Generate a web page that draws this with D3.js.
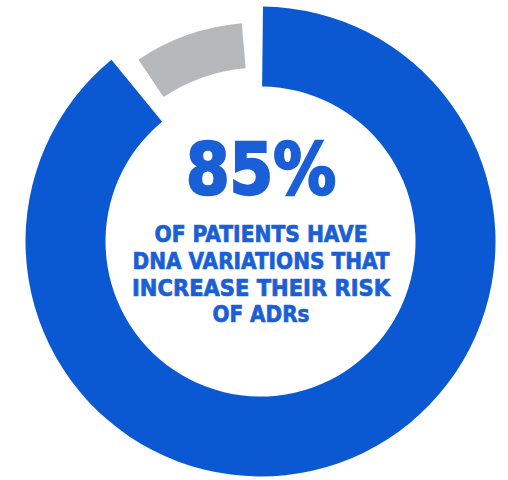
<!DOCTYPE html>
<html lang="en">
<head>
  <meta charset="UTF-8">
  <title>85% of patients</title>
  <script src="https://d3js.org/d3.v7.min.js"></script>
  <style>
    html, body { margin: 0; padding: 0; background: #fff; }
    .label { font-family: "DejaVu Sans Condensed", "DejaVu Sans", sans-serif; font-weight: bold; fill: #1a5fd6; stroke: #1a5fd6; }
  </style>
</head>
<body>
  <svg id="chart" width="508" height="480"></svg>

  <script>
    // segments (share of the visible ring)
    const segments = ["patients with variations", "others"];
    const shares = [91.7, 8.3];
    const colors = ["#0a59d2", "#b6b9bc"];
    const bigLabel = "85%";
    const lines = ["OF PATIENTS HAVE", "DNA VARIATIONS THAT", "INCREASE THEIR RISK", "OF ADRs"];

    const width = 508, height = 480;
    const cx = 260.5, cy = 241.5;
    const deg = Math.PI / 180;
    const gap = 5.5 * deg;

    // ring sizes per segment: the grey piece sits inside the blue band
    const radii = [[155, 235], [174, 219]];

    const svg = d3.select("#chart");
    const g = svg.append("g").attr("transform", "translate(" + cx + "," + cy + ")");

    const pie = d3.pie()
      .sort(null)
      .padAngle(gap)
      .startAngle(-2.15 * deg)
      .endAngle(357.85 * deg);

    const arcs = pie(shares);

    g.selectAll("path.seg")
      .data(arcs)
      .enter().append("path")
      .attr("class", "seg")
      .attr("fill", (d, i) => colors[i])
      .attr("d", (d, i) => d3.arc()
        .innerRadius(radii[i][0])
        .outerRadius(radii[i][1])
        .startAngle(d.startAngle + d.padAngle / 2)
        .endAngle(d.endAngle - d.padAngle / 2)());

    // centre text, stretched to the widths seen in the picture
    svg.append("text")
      .attr("class", "label")
      .attr("x", 261)
      .attr("y", 194)
      .attr("text-anchor", "middle")
      .style("font-size", "72px")
      .style("stroke-width", "2.4px")
      .attr("textLength", 150)
      .attr("lengthAdjust", "spacingAndGlyphs")
      .text(bigLabel);

    const lineY = [242, 268.5, 295.5, 322];
    const lineW = [213, 257, 258, 97];

    svg.selectAll("text.line")
      .data(lines)
      .enter().append("text")
      .attr("class", "label line")
      .attr("x", 261)
      .attr("y", (d, i) => lineY[i])
      .attr("text-anchor", "middle")
      .style("font-size", "23.5px")
      .style("stroke-width", "0.7px")
      .attr("textLength", (d, i) => lineW[i])
      .attr("lengthAdjust", "spacingAndGlyphs")
      .text(d => d);
  </script>
</body>
</html>
